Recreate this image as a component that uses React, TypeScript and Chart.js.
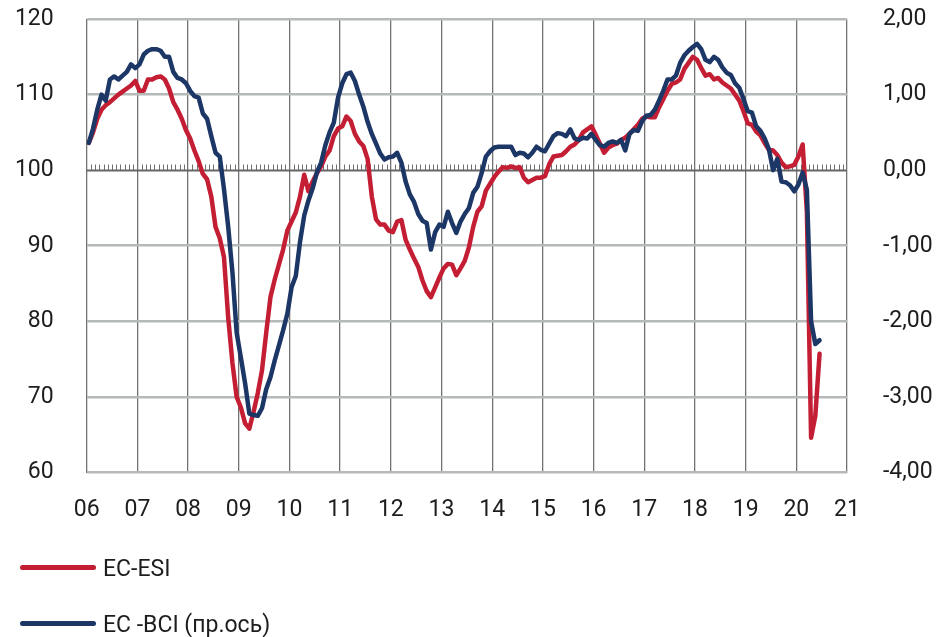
import React, { useEffect, useRef } from 'react';
import { Chart, registerables } from 'chart.js';

Chart.register(...registerables);

// Monthly data, January 2006 .. June 2020
const startYear = 2006;
const yearLabels = ['06', '07', '08', '09', '10', '11', '12', '13', '14', '15', '16', '17', '18', '19', '20', '21'];

const esi: number[] = [
  103.6, 105, 106.8, 108, 108.6, 109, 109.5, 110, 110.4, 110.8, 111.2, 111.8,
  110.5, 110.5, 112, 112, 112.3, 112.4, 112, 110.8, 109, 108, 106.8, 105.3,
  104.2, 102.6, 101.2, 99.5, 98.8, 96.5, 92.5, 91, 88.5, 80.5, 74.5, 70,
  68.6, 66.5, 65.8, 68, 70.5, 73.5, 78.5, 83.2, 85.5, 87.5, 89.5, 92,
  93.2, 94.4, 96.5, 99.4, 97.2, 98.5, 99.6, 100.5, 101.8, 102.6, 104.5, 105.5,
  105.8, 107.1, 106.5, 104.8, 103.8, 103.2, 101.5, 96.5, 93.5, 92.8, 92.8, 92,
  91.8, 93.2, 93.4, 90.8, 89.5, 88.3, 87.2, 85.4, 84, 83.2, 84.5, 85.8,
  87, 87.6, 87.5, 86.1, 87, 88, 89.8, 92.5, 94.5, 95.2, 97.3, 98.2,
  99.1, 99.8, 100.4, 100.3, 100.5, 100.3, 100.4, 99, 98.4, 98.7, 99, 99,
  99.2, 100.8, 101.8, 101.9, 102, 102.5, 103.1, 103.4, 104, 105, 105.4, 105.8,
  104.7, 103.5, 102.3, 103, 103.3, 103.5, 104, 104.3, 104.8, 105.4, 106, 106.8,
  107.1, 107, 107, 108.3, 109.4, 110.5, 111.4, 111.6, 112, 113.4, 114.2, 115,
  114.6, 113.5, 112.5, 112.7, 112, 112.2, 111.6, 111.2, 110.8, 110, 109.2, 107.8,
  106.2, 106, 105.1, 104.6, 103.6, 102.7, 102.6, 102, 101, 100.4, 100.5, 100.7,
  101.8, 103.4, 94.5, 64.6, 67.5, 75.7,
];

const bci: number[] = [
  0.36, 0.55, 0.8, 1.0, 0.92, 1.2, 1.24, 1.2, 1.25, 1.3, 1.4, 1.35,
  1.4, 1.53, 1.58, 1.6, 1.6, 1.58, 1.5, 1.5, 1.3, 1.22, 1.2, 1.15,
  1.05, 0.98, 0.96, 0.75, 0.68, 0.45, 0.23, 0.18, -0.25, -0.75, -1.35, -2.15,
  -2.48, -2.82, -3.22, -3.24, -3.25, -3.15, -2.9, -2.74, -2.52, -2.32, -2.12, -1.9,
  -1.55, -1.4, -0.95, -0.6, -0.4, -0.24, -0.03, 0.1, 0.33, 0.5, 0.63, 0.96,
  1.15, 1.27, 1.29, 1.18, 1.0, 0.84, 0.64, 0.48, 0.35, 0.22, 0.14, 0.17,
  0.18, 0.23, 0.1, -0.15, -0.32, -0.42, -0.58, -0.67, -0.7, -1.05, -0.82, -0.72,
  -0.75, -0.55, -0.7, -0.83, -0.68, -0.58, -0.5, -0.3, -0.22, -0.04, 0.18, 0.25,
  0.3, 0.31, 0.31, 0.31, 0.31, 0.2, 0.23, 0.22, 0.17, 0.23, 0.31, 0.27,
  0.25, 0.35, 0.45, 0.49, 0.48, 0.45, 0.54, 0.42, 0.4, 0.43, 0.42, 0.48,
  0.4, 0.33, 0.31, 0.36, 0.38, 0.36, 0.4, 0.26, 0.48, 0.53, 0.52, 0.65,
  0.72, 0.73, 0.8, 0.92, 1.05, 1.2, 1.2, 1.25, 1.42, 1.52, 1.58, 1.63,
  1.67, 1.6, 1.46, 1.43, 1.5, 1.46, 1.36, 1.29, 1.26, 1.15, 1.09, 0.94,
  0.78, 0.76, 0.58, 0.52, 0.42, 0.28, 0.0, 0.15, -0.15, -0.16, -0.2, -0.28,
  -0.19, -0.03, -0.26, -2.0, -2.3, -2.25,
];

const esiLabel = 'EC-ESI';
const bciLabel = 'EC -BCI (пр.ось)';

const RED = '#C41E34';
const BLUE = '#1C3666';
const FONT = 'Roboto, "Noto Sans", sans-serif';
const TEXT = '#1d1d1d';

const toPoints = (arr: number[]) => arr.map((v, i) => ({ x: startYear + (i + 0.5) / 12, y: v }));

const hatchPlugin = {
  id: 'hatchLine',
  beforeDatasetsDraw(chart: any) {
    const { ctx, scales } = chart;
    const x = scales.x;
    const y = scales.y;
    const yy = Math.round(y.getPixelForValue(100)) + 0.5;
    ctx.save();
    ctx.strokeStyle = '#707070';
    ctx.lineWidth = 1;
    ctx.beginPath();
    const totalMonths = (yearLabels.length - 1) * 12;
    for (let m = 0; m <= totalMonths; m++) {
      if (m % 12 === 0) continue;
      const px = Math.round(x.getPixelForValue(startYear + m / 12)) + 0.5;
      ctx.moveTo(px, yy);
      ctx.lineTo(px, yy - 6);
    }
    ctx.stroke();
    ctx.lineWidth = 2;
    ctx.strokeStyle = '#666666';
    ctx.beginPath();
    ctx.moveTo(x.left, yy);
    ctx.lineTo(x.right, yy);
    ctx.stroke();
    ctx.restore();
  },
};

const noVPad = (s: any) => {
  s.paddingTop = 0;
  s.paddingBottom = 0;
};

export default function App() {
  const ref = useRef<HTMLCanvasElement | null>(null);

  useEffect(() => {
    if (!ref.current) return;
    const chart = new Chart(ref.current, {
      type: 'line',
      data: {
        datasets: [
          {
            label: bciLabel,
            data: toPoints(bci),
            yAxisID: 'y2',
            borderColor: BLUE,
            backgroundColor: BLUE,
            borderWidth: 4.5,
            pointRadius: 0,
            tension: 0,
            borderJoinStyle: 'round',
            borderCapStyle: 'round',
            order: 0,
          },
          {
            label: esiLabel,
            data: toPoints(esi),
            yAxisID: 'y',
            borderColor: RED,
            backgroundColor: RED,
            borderWidth: 4.5,
            pointRadius: 0,
            tension: 0,
            borderJoinStyle: 'round',
            borderCapStyle: 'round',
            order: 1,
          },
        ],
      },
      options: {
        animation: false,
        responsive: false,
        devicePixelRatio: 1,
        layout: { padding: { top: 19, left: 0, right: 0, bottom: 0 } },
        plugins: { legend: { display: false }, tooltip: { enabled: false } },
        scales: {
          x: {
            type: 'linear',
            min: startYear,
            max: startYear + yearLabels.length - 1,
            border: { display: false },
            grid: { color: '#727272', lineWidth: 1.3, drawTicks: false },
            ticks: {
              stepSize: 1,
              padding: 24,
              color: TEXT,
              font: { family: FONT, size: 23 },
              maxRotation: 0,
              autoSkip: false,
              callback: (v: any) => yearLabels[Math.round(Number(v) - startYear)] ?? '',
            },
            afterFit: (s: any) => {
              s.height = 164.5;
            },
          },
          y: {
            position: 'left',
            min: 60,
            max: 120,
            border: { display: false },
            grid: {
              color: (c: any) => (c.tick && c.tick.value === 100 ? 'rgba(0,0,0,0)' : '#b6b9b9'),
              lineWidth: 2.6,
              drawTicks: false,
            },
            ticks: {
              stepSize: 10,
              padding: 33,
              color: TEXT,
              font: { family: FONT, size: 23 },
            },
            afterFit: (s: any) => {
              s.width = 86.7;
              noVPad(s);
            },
          },
          y2: {
            position: 'right',
            min: -4,
            max: 2,
            border: { display: false },
            grid: { display: false, drawTicks: false },
            ticks: {
              stepSize: 1,
              padding: 36,
              color: TEXT,
              font: { family: FONT, size: 23 },
              callback: (v: any) => Number(v).toFixed(2).replace('.', ','),
            },
            afterFit: (s: any) => {
              s.width = 103;
              noVPad(s);
            },
          },
        },
      },
      plugins: [hatchPlugin],
    });
    return () => chart.destroy();
  }, []);

  const legendText: React.CSSProperties = {
    position: 'absolute',
    left: 103,
    fontFamily: FONT,
    fontSize: 23,
    lineHeight: '23px',
    color: TEXT,
    whiteSpace: 'nowrap',
  };
  const legendLine: React.CSSProperties = {
    position: 'absolute',
    left: 20,
    width: 76,
    height: 5,
    borderRadius: 3,
  };

  return (
    <div style={{ position: 'absolute', left: 0, top: 0, width: 950, height: 637, background: '#fff' }}>
      <canvas ref={ref} width={950} height={637} style={{ display: 'block' }} />
      <div style={{ ...legendLine, top: 564.5, background: RED }} />
      <div style={{ ...legendText, top: 557 }}>{esiLabel}</div>
      <div style={{ ...legendLine, top: 620.5, background: BLUE }} />
      <div style={{ ...legendText, top: 613 }}>{bciLabel}</div>
    </div>
  );
}
